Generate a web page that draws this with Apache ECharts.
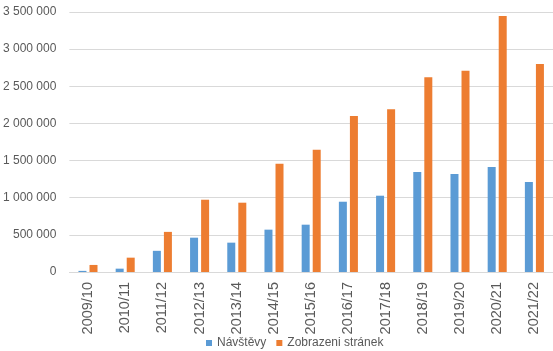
<!DOCTYPE html>
<html>
<head>
<meta charset="utf-8">
<script src="https://cdn.jsdelivr.net/npm/echarts@6/dist/echarts.min.js"></script>
<style>
    html, body { margin: 0; padding: 0; background: #ffffff; }
    #chart { width: 553px; height: 351px; }
</style>
</head>
<body>
<div id="chart"></div>
<script>
const seasons = ['2009/10', '2010/11', '2011/12', '2012/13', '2013/14', '2014/15', '2015/16',
    '2016/17', '2017/18', '2018/19', '2019/20', '2020/21', '2021/22'];
const visits = [15000, 45000, 285000, 462000, 395000, 570000, 637000,
    946000, 1027000, 1346000, 1319000, 1413000, 1211000];
const pageViews = [95000, 193000, 540000, 973000, 933000, 1457000, 1646000,
    2100000, 2190000, 2620000, 2710000, 3445000, 2800000];
const yTicks = [0, 500000, 1000000, 1500000, 2000000, 2500000, 3000000, 3500000];

const font = 'Liberation Sans, Arial, sans-serif';

// thousands with a space, like the original
function spaced(v) {
    return String(v).replace(/\B(?=(\d{3})+(?!\d))/g, ' ');
}

let chart = echarts.init(document.getElementById('chart'));
let option = {
    animation: false,
    textStyle: { fontFamily: font },
    color: ['#5b9bd5', '#ed7d31'],
    grid: {
        left: 68,
        right: 0,
        top: 12,
        bottom: 79,
    },
    legend: {
        data: ['Návštěvy', 'Zobrazeni stránek'],
        left: 201,
        top: 332,
        itemWidth: 6,
        itemHeight: 6,
        itemGap: 10,
        icon: 'rect',
        textStyle: { color: '#595959', fontSize: 12, fontFamily: font },
    },
    xAxis: {
        type: 'category',
        data: seasons,
        axisTick: { show: false },
        axisLine: { lineStyle: { color: '#d9d9d9' } },
        axisLabel: {
            rotate: 90,
            margin: 10,
            color: '#595959',
            fontSize: 14.5,
            fontFamily: font,
        },
    },
    yAxis: {
        type: 'value',
        min: yTicks[0],
        max: yTicks[yTicks.length - 1],
        interval: yTicks[1] - yTicks[0],
        axisLine: { show: false },
        axisTick: { show: false },
        splitLine: { lineStyle: { color: '#d9d9d9', width: 1 } },
        axisLabel: {
            margin: 13,
            color: '#595959',
            fontSize: 12,
            fontFamily: font,
            formatter: spaced,
        },
    },
    series: [
        {
            name: 'Návštěvy',
            type: 'bar',
            data: visits,
            barWidth: 8,
            barGap: '38%',
        },
        {
            name: 'Zobrazeni stránek',
            type: 'bar',
            data: pageViews,
            barWidth: 8,
            barGap: '38%',
        },
    ],
};
chart.setOption(option);
</script>
</body>
</html>
